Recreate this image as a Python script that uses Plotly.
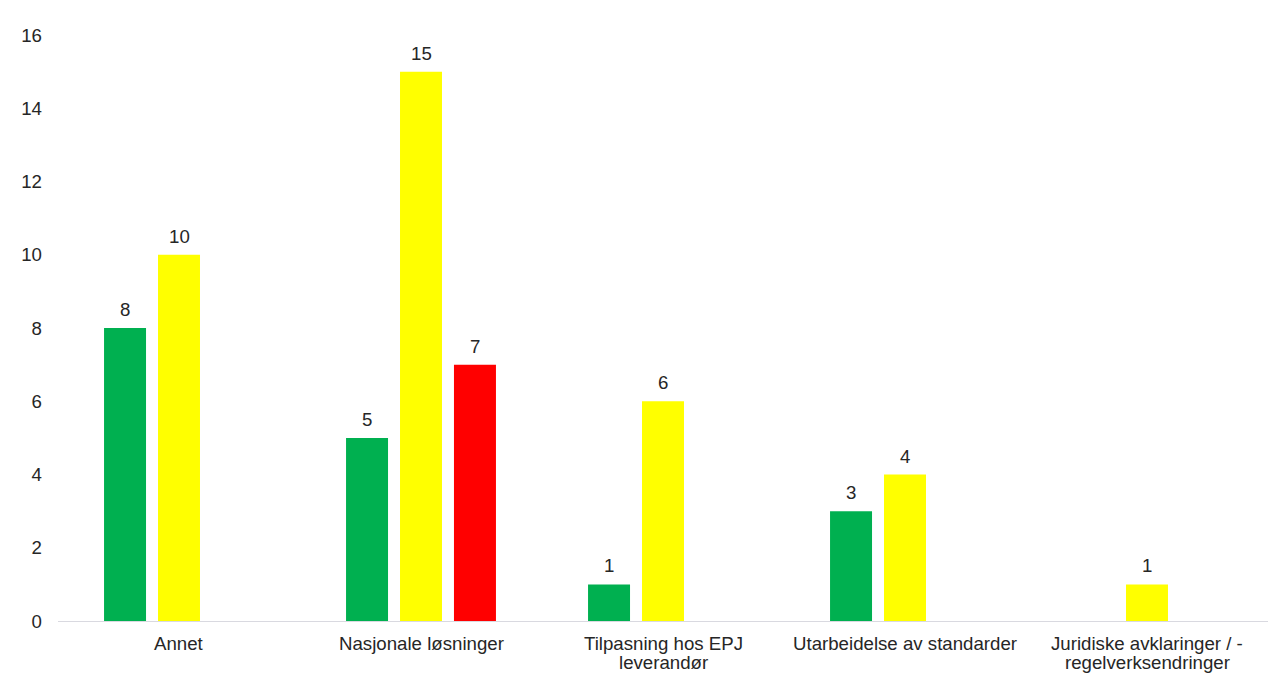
import plotly.graph_objects as go

categories = ["Annet", "Nasjonale løsninger", "Tilpasning hos EPJ<br>leverandør",
              "Utarbeidelse av standarder", "Juridiske avklaringer / -<br>regelverksendringer"]
green_vals = [8, 5, 1, 3, None]
yellow_vals = [10, 15, 6, 4, 1]
red_vals = [None, 7, None, None, None]
y_ticks = [0, 2, 4, 6, 8, 10, 12, 14, 16]

FONT = "Liberation Sans, Arial, sans-serif"
TXT = "#262626"
FS = 18.67
BARGAP = 0.331
LINE_H = 19.5

series = [("Grønn", green_vals, "#00B050"),
          ("Gul", yellow_vals, "#FFFF00"),
          ("Rød", red_vals, "#FF0000")]

fig = go.Figure()
for name, vals, col in series:
    fig.add_trace(go.Bar(
        x=categories, y=vals, name=name, marker=dict(color=col, line=dict(width=0)),
    ))

# value labels above bars, positioned from the group layout
n = len(series)
slot = (1 - BARGAP) / n
for i, (name, vals, col) in enumerate(series):
    for j, v in enumerate(vals):
        if v is None:
            continue
        fig.add_annotation(
            x=j + (i - (n - 1) / 2) * slot, y=v, text=str(v), showarrow=False,
            yanchor="bottom", yshift=6, xref="x", yref="y",
            font=dict(family=FONT, size=FS, color=TXT),
        )

# category labels (tight line spacing as in the reference)
for j, cat in enumerate(categories):
    for k, line in enumerate(cat.split("<br>")):
        fig.add_annotation(
            x=j, y=0, xref="x", yref="paper", text=line, showarrow=False,
            yanchor="middle", yshift=-22 - k * LINE_H,
            font=dict(family=FONT, size=FS, color=TXT),
        )

fig.update_layout(
    width=1270, height=675,
    margin=dict(l=58, r=2, t=35, b=54),
    paper_bgcolor="white", plot_bgcolor="white",
    barmode="group", bargap=BARGAP, bargroupgap=0.222,
    showlegend=False,
    font=dict(family=FONT, size=FS, color=TXT),
    xaxis=dict(showgrid=False, showline=True, linecolor="#D9D9E0", linewidth=1,
               ticks="", showticklabels=False, automargin=False),
    yaxis=dict(range=[0, 16], tickvals=y_ticks, showgrid=False, zeroline=False,
               showline=False, ticks="", tickfont=dict(size=FS, color=TXT),
               ticklabelstandoff=15, automargin=False),
)
fig.write_html("out.html")
